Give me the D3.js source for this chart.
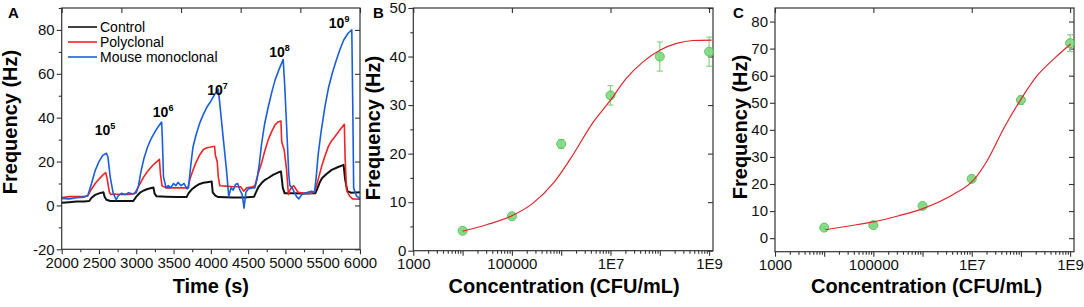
<html>
<head>
  <meta charset="utf-8">
  <script src="https://d3js.org/d3.v7.min.js"></script>
  <style>
    body { margin: 0; background: white; }
    text { font-family: "Liberation Sans", Arial, sans-serif; }
  </style>
  <script>
    // ---- panel A : time traces [time (s), frequency (Hz)]
    var controlSeries = [[2000,1.2],[2100,1.5],[2200,1.8],[2300,1.8],[2370,2],[2400,3.5],[2450,4.8],[2500,5.5],
      [2560,6],[2575,4],[2600,2.6],[2650,2],[2800,2],[2960,2],[3000,4],[3050,5.8],[3100,6.8],[3150,7.5],
      [3230,8.2],[3245,5.5],[3270,4.2],[3400,4],[3550,3.8],[3675,3.8],[3700,5.5],[3750,7.5],[3800,8.8],
      [3850,9.8],[3900,10.3],[3950,10.6],[4011,10.9],[4025,6],[4060,4.5],[4100,3.8],[4300,3.6],[4450,3.6],
      [4580,4],[4600,5.6],[4640,8.5],[4680,10.2],[4720,11.5],[4770,12.5],[4840,14],[4900,15],[4940,15.5],
      [4965,8],[4990,5.5],[5100,5.5],[5250,5.4],[5400,5.5],[5420,7],[5460,10.5],[5490,12.4],[5550,14.3],
      [5620,16.2],[5700,17.4],[5780,18.5],[5800,12],[5830,6.5],[5880,5.8],[6000,6]];
    var polySeries = [[2000,3.6],[2100,4],[2200,4],[2300,4],[2350,4.3],[2400,7.5],[2450,10],[2500,12],
      [2550,13.8],[2590,15],[2610,12],[2640,6],[2660,5],[2700,5.2],[2800,5],[2900,5],[2980,5.5],[3020,8],
      [3060,10.5],[3100,13],[3150,15.5],[3200,17.5],[3250,19.2],[3310,21],[3325,14],[3345,9],[3400,8],
      [3500,8],[3600,8],[3690,8],[3720,12],[3760,16],[3800,19.5],[3850,23],[3900,25.5],[3950,26.3],
      [4000,26.6],[4050,27],[4060,23],[4085,20],[4100,13],[4120,9],[4200,8.8],[4300,8.5],[4400,8.5],
      [4440,6.5],[4480,8],[4560,8.5],[4590,9],[4630,14],[4680,19.3],[4720,24.5],[4770,30],[4820,34],
      [4860,36.7],[4900,38],[4940,38.5],[4950,29],[4985,25],[5016,16],[5040,5],[5060,7],[5090,8.5],
      [5110,9],[5140,7.5],[5170,6],[5250,5.5],[5330,5.5],[5390,6],[5440,12],[5485,17.7],[5530,22.5],
      [5575,26.8],[5620,29.5],[5665,31.4],[5720,34],[5790,37],[5800,22],[5820,7],[5860,4.3],[5900,3],[6000,2.8]];
    var monoSeries = [[2000,3.2],[2100,3],[2200,3.5],[2300,3.8],[2350,4.5],[2400,10],[2450,16],[2500,20],
      [2550,22.8],[2600,23.8],[2620,22],[2650,13],[2690,5.6],[2730,2.6],[2760,4.5],[2800,5.5],[2850,5],
      [2900,5.8],[2950,5.2],[3000,5.8],[3030,9],[3060,15],[3100,21],[3150,26.5],[3200,30.5],[3250,33.5],
      [3300,36.2],[3340,38],[3350,30],[3365,13],[3400,8],[3430,9],[3460,8],[3500,10],[3530,9],[3560,10.5],
      [3600,9],[3640,10],[3680,7.5],[3700,8],[3730,18],[3760,26.5],[3800,32],[3850,37.5],[3900,41.5],
      [3950,45],[4000,47.5],[4050,50.5],[4100,53],[4130,43],[4165,31],[4210,16],[4240,4],[4270,8],[4300,7],
      [4330,9.5],[4360,10],[4390,7],[4420,5],[4445,-1.2],[4470,6],[4500,7.5],[4550,8],[4590,8],[4620,12],
      [4650,19],[4680,28],[4720,37],[4770,45],[4820,52],[4860,57],[4920,62.5],[4970,66.5],[4990,55],
      [5016,36],[5045,14],[5060,9],[5090,8],[5120,6],[5150,4],[5180,3],[5220,5],[5260,5.5],[5300,6],
      [5350,6.5],[5390,6],[5410,12],[5440,23.5],[5480,34],[5530,45],[5580,54],[5630,60.5],[5680,66],
      [5730,71],[5780,75.3],[5840,78.5],[5890,80],[5905,40],[5915,8],[5950,4.5],[6000,3]];
    var seriesNames = ["Control", "Polyclonal", "Mouse monoclonal"];
    var seriesColors = ["#111111", "#f02424", "#1a5edc"];
    // peak labels: exponent, time, frequency anchor (baseline)
    var peakExp = ["5", "6", "7", "8", "9"];
    var peakT = [2580, 3360, 4090, 4920, 5720];
    var peakF = [32, 40.5, 50.5, 67.5, 81];

    // ---- panels B and C : concentration response
    var conc = [1e4, 1e5, 1e6, 1e7, 1e8, 1e9];
    var freqB = [4.1, 7.1, 22, 32, 40, 41];
    var errB = [0.3, 0.4, 0.9, 2, 3, 3];
    var freqC = [3.9, 4.8, 11.9, 21.9, 51, 72];
    var errC = [0.4, 0.5, 0.6, 0.6, 1.5, 3.1];
    var fitBLog = [4.0, 4.5, 5.0, 5.43, 5.84, 6.18, 6.65, 7.0, 7.32, 7.66, 8.0, 8.34, 8.67, 9.05];
    var fitBF = [4.0, 5.4, 7.2, 9.8, 13.9, 18.8, 26.5, 31, 35.5, 38.9, 41.3, 42.7, 43.3, 43.4];
    var fitCLog = [4.02, 4.5, 5.0, 5.5, 6.02, 6.63, 7.04, 7.31, 7.65, 7.99, 8.33, 8.67, 9.01];
    var fitCF = [3.1, 4.5, 6.0, 8.2, 11, 16.2, 21.5, 28.5, 40.5, 51, 60, 66.2, 71.7];
    var concTicks = [1e3, 1e5, 1e7, 1e9];
    var concTickLabels = ["1000", "100000", "1E7", "1E9"];

    function frame( g, x, y, o ) {
      var [x0, x1] = x.range(), [y0, y1] = y.range();
      g.append( "g" ).attr( "transform", "translate(0," + y0 + ")" )
          .call( d3.axisBottom( x ).tickValues( o.xMajor ).tickSize( 5 ).tickPadding( 3 ).tickFormat( o.xFmt ) )
          .call( s => s.select( ".domain" ).remove() );
      g.append( "g" ).attr( "transform", "translate(0," + y0 + ")" )
          .call( d3.axisBottom( x ).tickValues( o.xMinor ).tickSize( 3 ).tickFormat( "" ) )
          .call( s => s.select( ".domain" ).remove() );
      g.append( "g" ).attr( "transform", "translate(0," + y1 + ")" )
          .call( d3.axisTop( x ).tickValues( o.xTop ).tickSize( -5 ).tickFormat( "" ) )
          .call( s => s.select( ".domain" ).remove() );
      g.append( "g" ).attr( "transform", "translate(" + x0 + ",0)" )
          .call( d3.axisLeft( y ).tickValues( o.yMajor ).tickSize( 5 ).tickPadding( 2 ).tickFormat( d => String( d ) ) )
          .call( s => s.select( ".domain" ).remove() );
      if( o.yMinor ) {
        g.append( "g" ).attr( "transform", "translate(" + x0 + ",0)" )
            .call( d3.axisLeft( y ).tickValues( o.yMinor ).tickSize( 3 ).tickFormat( "" ) )
            .call( s => s.select( ".domain" ).remove() );
      }
      g.append( "g" ).attr( "transform", "translate(" + x1 + ",0)" )
          .call( d3.axisRight( y ).tickValues( o.yMajor ).tickSize( -5 ).tickFormat( "" ) )
          .call( s => s.select( ".domain" ).remove() );
      g.selectAll( ".tick text" ).attr( "font-size", 15 ).attr( "fill", "#111" )
          .style( "font-family", "'Liberation Sans', Arial, sans-serif" );
      g.selectAll( ".tick line" ).attr( "stroke", "#333" ).attr( "stroke-width", 1.1 );
      g.append( "rect" ).attr( "x", x0 ).attr( "y", y1 ).attr( "width", x1 - x0 ).attr( "height", y0 - y1 )
          .attr( "fill", "none" ).attr( "stroke", "#333" ).attr( "stroke-width", 1.2 );
      g.append( "text" ).attr( "transform", "translate(" + o.yTitleX + "," + o.yTitleY + ") rotate(-90)" )
          .attr( "text-anchor", "middle" ).attr( "font-size", 20 ).attr( "font-weight", "bold" )
          .text( "Frequency (Hz)" );
      g.append( "text" ).attr( "x", (x0 + x1) / 2 + o.xTitleDx ).attr( "y", 293 )
          .attr( "text-anchor", "middle" ).attr( "font-size", 20 ).attr( "font-weight", "bold" )
          .text( o.xTitle );
      g.append( "text" ).attr( "x", o.tagX ).attr( "y", 18 ).attr( "font-size", 15 )
          .attr( "font-weight", "bold" ).text( o.tag );
    }

    function logMinor( lo, hi ) {
      var out = [];
      for( var e = lo; e < hi; e++ )
        for( var k = 2; k < 10; k++ ) out.push( k * Math.pow( 10, e ) );
      return out;
    }

    function doseResponse( g, x, y, freq, err, fitLog, fitF ) {
      var line = d3.line().x( d => x( Math.pow( 10, d[0] ) ) ).y( d => y( d[1] ) ).curve( d3.curveMonotoneX );
      var bars = g.append( "g" ).attr( "stroke", "#86d686" ).attr( "stroke-width", 1.2 );
      conc.forEach( function( c, i ) {
        var cx = x( c ), top = y( freq[i] + err[i] ), bot = y( freq[i] - err[i] );
        bars.append( "line" ).attr( "x1", cx ).attr( "x2", cx ).attr( "y1", top ).attr( "y2", bot );
        bars.append( "line" ).attr( "x1", cx - 3 ).attr( "x2", cx + 3 ).attr( "y1", top ).attr( "y2", top );
        bars.append( "line" ).attr( "x1", cx - 3 ).attr( "x2", cx + 3 ).attr( "y1", bot ).attr( "y2", bot );
      } );
      g.selectAll( "circle.pt" ).data( conc ).enter().append( "circle" ).attr( "class", "pt" )
          .attr( "cx", d => x( d ) ).attr( "cy", (d, i) => y( freq[i] ) ).attr( "r", 4.5 )
          .attr( "fill", "#7ad67a" ).attr( "fill-opacity", 0.85 ).attr( "stroke", "#5cc45c" ).attr( "stroke-width", 1 );
      g.append( "path" ).datum( d3.zip( fitLog, fitF ) ).attr( "d", line )
          .attr( "fill", "none" ).attr( "stroke", "#e0262b" ).attr( "stroke-width", 1.2 );
    }

    function makeChart() {
      var svg = d3.select( "#chart" );

      // ---- A
      var xA = d3.scaleLinear().domain( [2000, 6000] ).range( [61.7, 360] );
      var yA = d3.scaleLinear().domain( [-20, 90] ).range( [249.3, 8] );
      var gA = svg.append( "g" );
      var trace = d3.line().x( d => xA( d[0] ) ).y( d => yA( d[1] ) );
      [controlSeries, polySeries, monoSeries].forEach( function( s, i ) {
        gA.append( "path" ).datum( s ).attr( "d", trace ).attr( "fill", "none" )
            .attr( "stroke", seriesColors[i] ).attr( "stroke-width", i == 0 ? 2 : 1.6 )
            .attr( "stroke-linejoin", "round" );
      } );
      frame( gA, xA, yA, {
        xMajor: d3.range( 2000, 6001, 500 ), xMinor: d3.range( 2250, 6000, 500 ),
        xTop: d3.range( 2000, 6001, 800 ), xFmt: d => String( d ),
        yMajor: d3.range( -20, 81, 20 ), yMinor: d3.range( -10, 91, 20 ),
        yTitleX: 17, yTitleY: 122, xTitle: "Time (s)", xTitleDx: 0, tag: "A", tagX: 8
      } );
      var leg = gA.append( "g" );
      seriesNames.forEach( function( n, i ) {
        var ly = 27 + i * 15;
        leg.append( "line" ).attr( "x1", 68 ).attr( "x2", 97 ).attr( "y1", ly ).attr( "y2", ly )
            .attr( "stroke", seriesColors[i] ).attr( "stroke-width", 1.6 );
        leg.append( "text" ).attr( "x", 100 ).attr( "y", ly + 5 ).attr( "font-size", 14 ).text( n );
      } );
      peakExp.forEach( function( e, i ) {
        var t = gA.append( "text" ).attr( "x", xA( peakT[i] ) ).attr( "y", yA( peakF[i] ) )
            .attr( "text-anchor", "middle" ).attr( "font-size", 14 ).attr( "font-weight", "bold" );
        t.append( "tspan" ).text( "10" );
        t.append( "tspan" ).attr( "font-size", 9 ).attr( "dy", -6 ).text( e );
      } );

      // ---- B
      var xB = d3.scaleLog().domain( [1e3, 1.2e9] ).range( [413.3, 713] );
      var yB = d3.scaleLinear().domain( [0, 50] ).range( [250.7, 8] );
      var gB = svg.append( "g" );
      frame( gB, xB, yB, {
        xMajor: [1e3, 1e4, 1e5, 1e6, 1e7, 1e8, 1e9], xMinor: logMinor( 3, 9 ), xTop: [1e3, 1e5, 1e7, 1e9],
        xFmt: d => { var k = concTicks.indexOf( d ); return k < 0 ? "" : concTickLabels[k]; },
        yMajor: d3.range( 0, 51, 10 ), yMinor: d3.range( 5, 50, 10 ),
        yTitleX: 380, yTitleY: 128, xTitle: "Concentration (CFU/mL)", xTitleDx: 1, tag: "B", tagX: 373
      } );
      doseResponse( gB, xB, yB, freqB, errB, fitBLog, fitBF );

      // ---- C
      var xC = d3.scaleLog().domain( [1e3, 1.2e9] ).range( [775, 1074] );
      var yC = d3.scaleLinear().domain( [-5, 85] ).range( [251.7, 8] );
      var gC = svg.append( "g" );
      frame( gC, xC, yC, {
        xMajor: [1e3, 1e4, 1e5, 1e6, 1e7, 1e8, 1e9], xMinor: logMinor( 3, 9 ), xTop: [1e3, 1e5, 1e7, 1e9],
        xFmt: d => { var k = concTicks.indexOf( d ); return k < 0 ? "" : concTickLabels[k]; },
        yMajor: d3.range( 0, 81, 10 ), yMinor: null,
        yTitleX: 747, yTitleY: 127, xTitle: "Concentration (CFU/mL)", xTitleDx: 2, tag: "C", tagX: 733
      } );
      doseResponse( gC, xC, yC, freqC, errC, fitCLog, fitCF );
    }
  </script>
</head>

<body onload="makeChart()">
  <svg id="chart" width="1084" height="307"></svg>
</body>
</html>
